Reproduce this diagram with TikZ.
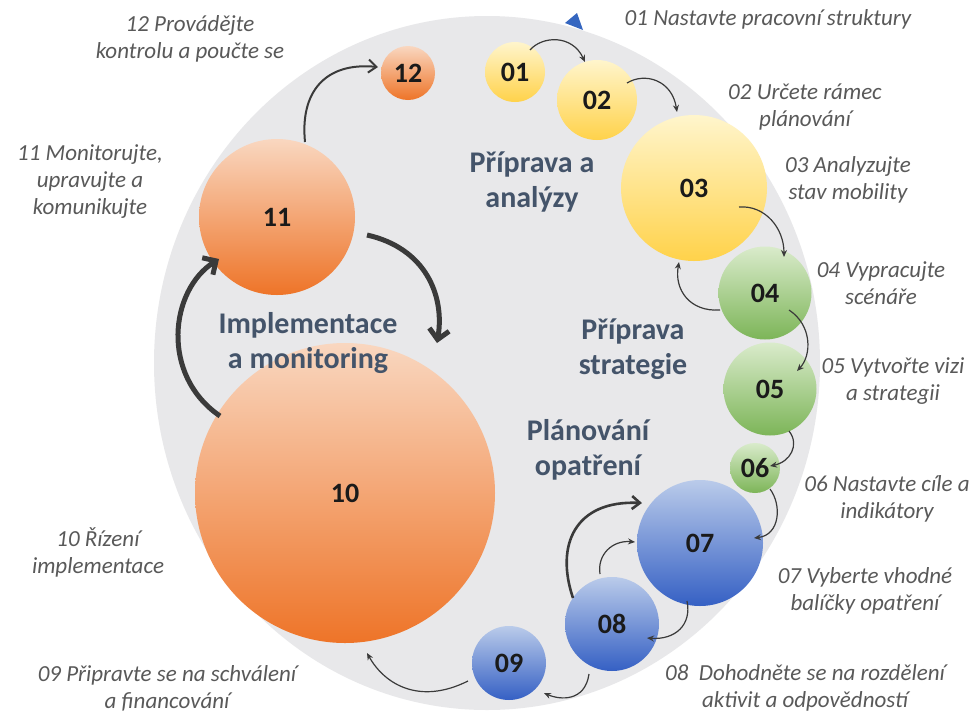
\documentclass[tikz,border=0pt]{standalone}
\usepackage{fontspec}
\setmainfont{Carlito}
\usetikzlibrary{arrows.meta,calc}
\definecolor{bgc}{HTML}{E8E8EA}
\definecolor{labc}{HTML}{595959}
\definecolor{phc}{HTML}{44546A}
\definecolor{numc}{HTML}{1A1A1A}
\definecolor{arrc}{HTML}{3A3A3A}
\definecolor{triblue}{HTML}{3566C0}
\definecolor{yelT}{HTML}{FFF5CC}
\definecolor{yelB}{HTML}{FFD24A}
\definecolor{grnT}{HTML}{D9EBCB}
\definecolor{grnB}{HTML}{7DB558}
\definecolor{bluT}{HTML}{BACBEA}
\definecolor{bluB}{HTML}{3560C4}
\definecolor{orT}{HTML}{F9D7C0}
\definecolor{orB}{HTML}{EE7428}
\tikzset{
  ball/.style={circle, minimum size=#1, inner sep=0pt, draw=none,
    font=\fontsize{28}{32}\selectfont\bfseries, text=numc},
  yel/.style={top color=yelT, bottom color=yelB},
  grn/.style={top color=grnT, bottom color=grnB},
  blu/.style={top color=bluT, bottom color=bluB},
  ora/.style={top color=orT, bottom color=orB},
  lab/.style={align=center, font=\fontsize{23}{27}\selectfont\itshape, text=labc, inner sep=0pt},
  phase/.style={align=center, font=\fontsize{30}{35}\selectfont\bfseries, text=phc, inner sep=0pt},
  thin arrow/.style={draw=arrc, line width=1.2pt, -{Stealth[length=7pt,width=6pt]}},
  mid arrow/.style={draw=arrc, line width=2.6pt, -{Straight Barb[length=8pt,width=13pt]}},
  thick arrow/.style={draw=arrc, line width=5pt, -{Straight Barb[length=10pt,width=20pt]}},
}
\begin{document}
\begin{tikzpicture}[x=1pt,y=-1pt]
\useasboundingbox[fill=white] (0,0) rectangle (975,713);
% background disc
\fill[bgc] (487,363) ellipse [x radius=333, y radius=347];
% blue marker
\fill[triblue] (565,23) -- (577,13) -- (583,30) -- cycle;

% circles
\node[ball=60pt, yel] (n01) at (515,72) {01};
\node[ball=80pt, yel] (n02) at (597,100) {02};
\node[ball=146pt, yel] (n03) at (694,188) {03};
\node[ball=93pt, grn] (n04) at (765,293) {04};
\node[ball=93pt, grn] (n05) at (770,389) {05};
\node[ball=50pt, grn] (n06) at (755,468) {06};
\node[ball=126pt, blu] (n07) at (700,543) {07};
\node[ball=94pt, blu] (n08) at (612,624) {08};
\node[ball=74pt, blu] (n09) at (509,663) {09};
\node[ball=300pt, ora] (n10) at (345,493) {10};
\node[ball=156pt, ora] (n11) at (277,217) {11};
\node[ball=54pt, ora] (n12) at (408,73) {12};

% connectors
\draw[thin arrow] ($(n01)+(15,-22)$) .. controls (542,36) and (572,34) .. ($(n02)+(-12,-38)$);
\draw[thin arrow] ($(n02)+(30,-17)$) .. controls (645,72) and (672,80) .. ($(n03)+(-17,-76)$);
\draw[thin arrow] ($(n03)+(45,19)$) .. controls (765,205) and (784,228) .. ($(n04)+(19,-36)$);
\draw[thin arrow] ($(n04)+(-45,17)$) .. controls (690,312) and (674,290) .. ($(n03)+(-15,74)$);
\draw[thin arrow] ($(n04)+(24,17)$) .. controls (812,325) and (812,355) .. ($(n05)+(27,-18)$);
\draw[thin arrow] ($(n05)+(19,42)$) .. controls (800,445) and (790,462) .. ($(n06)+(15,-2)$);
\draw[thin arrow] ($(n06)+(15,21)$) .. controls (782,505) and (780,535) .. ($(n07)+(54,-5)$);
\draw[thin arrow] ($(n07)+(-13,58)$) .. controls (692,625) and (675,640) .. ($(n08)+(35,14)$);
\draw[thin arrow] ($(n08)+(-12,-50)$) .. controls (597,555) and (612,540) .. ($(n07)+(-65,-1)$);
\draw[mid arrow] ($(n08)+(-39,-26)$) .. controls (555,545) and (575,500) .. ($(n07)+(-58,-40)$);
\draw[thin arrow] ($(n08)+(-23,50)$) .. controls (585,702) and (560,700) .. ($(n09)+(35,30)$);
\draw[thin arrow] ($(n09)+(-41,18)$) .. controls (420,705) and (385,685) .. ($(n10)+(22,160)$);
\draw[thick arrow] ($(n10)+(-125,-77)$) .. controls (160,375) and (170,290) .. ($(n11)+(-58,42)$);
\draw[thick arrow] ($(n11)+(90,18)$) .. controls (425,248) and (445,295) .. ($(n10)+(92,-150)$);
\draw[mid arrow, line width=2pt] ($(n11)+(28,-75)$) .. controls (300,92) and (325,62) .. ($(n12)+(-30,-6)$);

% phase labels
\node[phase] (p1) at (532,182) {Příprava a\\analýzy};
\node[phase] (p2) at (633,349) {Příprava\\strategie};
\node[phase] (p3) at (308,343) {Implementace\\a monitoring};
\node[phase] (p4) at (588,450) {Plánování\\opatření};

% step labels
\node[lab] (t12) at (190,39) {12 Provádějte\\kontrolu a poučte se};
\node[lab] (t11) at (90,182) {11 Monitorujte,\\upravujte a\\komunikujte};
\node[lab] (t10) at (98,552) {10 Řízení\\implementace};
\node[lab] (t09) at (167,688) {09 Připravte se na schválení\\a financování};
\node[lab] (t08) at (805,688) {08\ \ Dohodněte se na rozdělení\\aktivit a odpovědností};
\node[lab] (t07) at (865,591) {07 Vyberte vhodné\\balíčky opatření};
\node[lab] (t06) at (887,499) {06 Nastavte cíle a\\indikátory};
\node[lab] (t05) at (893,381) {05 Vytvořte vizi\\a strategii};
\node[lab] (t04) at (881,283) {04 Vypracujte\\scénáře};
\node[lab] (t03) at (848,180) {03 Analyzujte\\stav mobility};
\node[lab] (t02) at (805,107) {02 Určete rámec\\plánování};
\node[lab] (t01) at (768,19) {01 Nastavte pracovní struktury};
\end{tikzpicture}
\end{document}
